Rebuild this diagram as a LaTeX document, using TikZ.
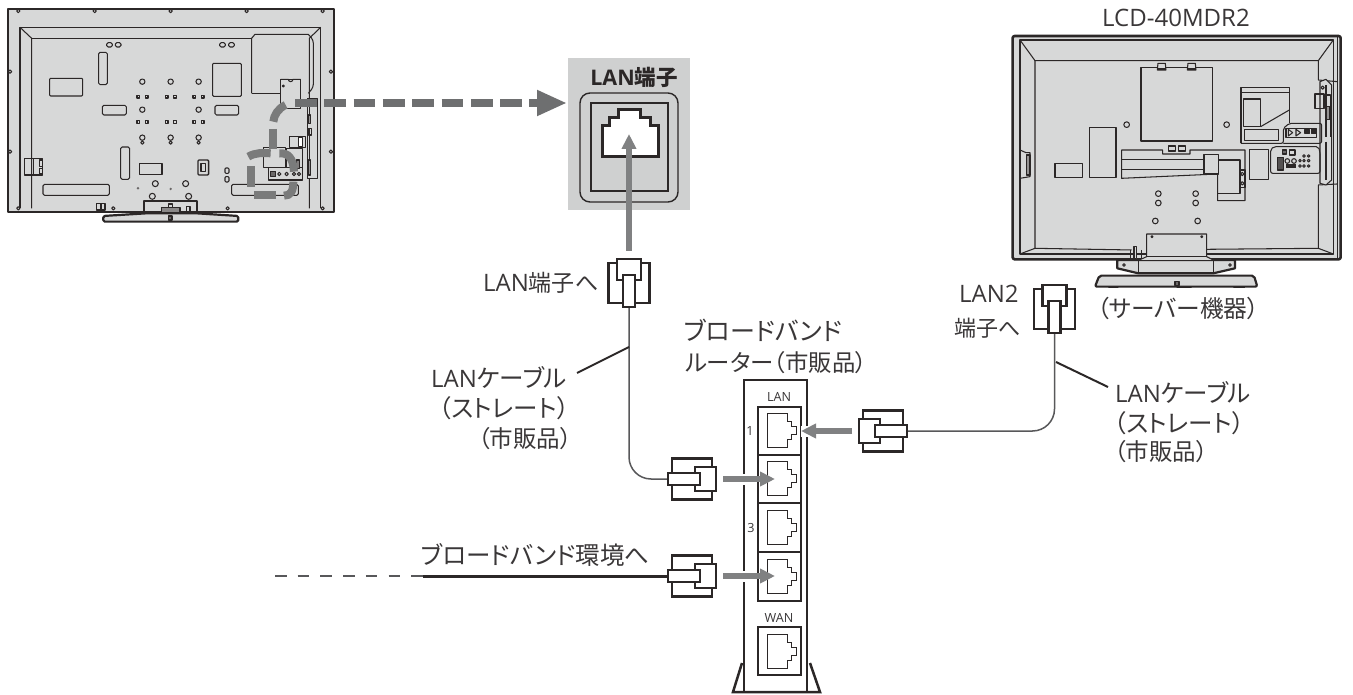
\documentclass[tikz,border=0pt]{standalone}
\usepackage{fontspec}
\setmainfont[RawFeature=+palt]{Noto Sans CJK JP}
\newfontfamily\latfam{Open Sans}
\usetikzlibrary{arrows.meta}
\definecolor{ink}{HTML}{2B2727}
\definecolor{txt}{HTML}{3A3738}
\definecolor{tvfill}{HTML}{D7D8D8}
\definecolor{panel}{HTML}{CFD0D0}
\definecolor{arrowgray}{HTML}{808182}
\definecolor{dashgray}{HTML}{6E6F70}
\definecolor{wiregray}{HTML}{58585A}
\newcommand{\ltn}[1]{{\latfam\fontsize{24}{28}\selectfont #1}}
\tikzset{
  lab/.style={font=\fontsize{23}{28}\selectfont,text=txt,inner sep=0pt,anchor=base west},
  labk/.style={lab,font=\fontsize{24.5}{28}\selectfont},
  smalllab/.style={font=\latfam\fontsize{12.6}{15}\selectfont,text=txt,inner sep=0pt},
  tv/.style={draw=ink,line width=1.05pt,line join=round},
  tvthick/.style={draw=ink,line width=2.2pt,line join=round},
  tvdash/.style={draw=dashgray!92!white,line width=8pt},
  wire/.style={draw=wiregray,line width=1.5pt,rounded corners=22pt},
  leader/.style={draw=ink,line width=2pt},
  gap/.style={draw=white,line width=11pt},
  grayarrow/.style={draw=arrowgray,line width=5.5pt,-{Triangle[length=15pt,width=14pt,fill=arrowgray]}},
  portbox/.style={draw=ink,line width=1.1pt},
  pics/plug/.style={code={
    \draw[ink,line width=2.2pt,fill=white] (-20.5,4) rectangle (20.5,44);
    \draw[ink,line width=2.2pt,fill=white] (-12,0) rectangle (12,21);
    \draw[ink,line width=2.2pt,fill=white] (-6,16) rectangle (6,48);
  }},
  pics/rjjack/.style={code={
    \draw[ink,line width=.9pt,fill=white] (0,-17) -- (20,-17) -- (20,-9) -- (24,-9) -- (24,-4) -- (29,-4)
      -- (29,4) -- (24,4) -- (24,9) -- (20,9) -- (20,17) -- (0,17) -- cycle;
  }}
}
\begin{document}
\begin{tikzpicture}[x=1pt,y=-1pt]
\useasboundingbox (0,0) rectangle (1353,695);
\fill[white] (0,0) rectangle (1353,695);

% ---------- left TV (zoom coordinates, 1/3 px)
\begin{scope}[x=.3333pt,y=-.3333pt]
\draw[tvthick,fill=tvfill] (23,27) rectangle (1002,635);
\draw[tv] (60,625) -- (60,82) -- (962,82) -- (962,625);
\draw[tv] (60,82) -- (95,115) -- (95,625);
\draw[tv] (962,82) -- (928,115) -- (928,625);
\draw[tv] (95,115) -- (755,115);
\draw[tv] (755,280) -- (755,115) -- (765,103) -- (925,103) [rounded corners=3pt] -- (940,120) -- (940,262) -- (925,280);
\draw[tv] (755,280) -- (842,280);
\foreach \a/\b in {55/33,284/33,512/33,740/33,968/33,30/215,30/455,993/215,993/455,55/625,340/625,683/625,968/625}
  \draw[tv,fill=tvfill] (\a,\b) circle [radius=5];
\foreach \a in {320,346,659,686}
  \draw[tv,rounded corners=1.5pt] (\a,128) rectangle ++(17,13);
\draw[tv,rounded corners=1.5pt] (296,157) rectangle (322,254);
\draw[tv,rounded corners=1pt] (149,235) rectangle (248,288);
\draw[tv,rounded corners=1pt] (638,190) rectangle (724,289);
\draw[tv,rounded corners=1.5pt] (307,316) rectangle (379,345);
\draw[tv,rounded corners=1.5pt] (645,316) rectangle (716,345);
\foreach \a/\b in {427/245,512/245,596/245,427/329,596/329}
  \draw[tv] (\a,\b) circle [radius=8];
\foreach \a in {427,512,596} {
  \draw[tv] (\a,428) circle [radius=5];
  \draw[tv,fill=tvfill] (\a,413) circle [radius=8];
}
\foreach \b in {290,366} \foreach \a in {415,440,500,525,583,608}
  \draw[tv,fill=tvfill] (\a-4,\b-4) rectangle ++(8,8);
\draw[tv,rounded corners=1.5pt] (362,441) rectangle (389,538);
\draw[tv] (418,490) rectangle (486,524);
\draw[tv,rounded corners=1pt,line width=1.3pt] (594,480) rectangle (626,525);
\draw[tv] (603,491) rectangle (616,515);
\draw[tv,rounded corners=1.5pt] (129,553) rectangle (328,586);
\foreach \a/\b in {466/551,557/551,457/589,566/589}
  \draw[tv] (\a,\b) circle [radius=9];
\fill[ink!70!white] (414,565) circle [radius=4] (512,567) circle [radius=4];
\draw[tv,rounded corners=1pt] (675,504) rectangle (687,520);
\draw[tv,rounded corners=1pt] (675,530) rectangle (687,546);
\draw[tv,rounded corners=1.5pt] (695,553) rectangle (895,586);
\draw[tv,line width=1.3pt] (73,476) rectangle (128,525);
\draw[tv] (100,476) -- (100,525) (118,480) rectangle (128,500) (118,505) rectangle (128,522);
\draw[tv,fill=tvfill] (842,238) rectangle (902,326);
\draw[tv] (842,238) -- (865,238) arc (180:0:7) -- (902,238);
\draw[tv,fill=ink!60!white] (850,258) circle [radius=3];
\draw[tv,fill=tvfill] (922,295) rectangle (952,535);
\draw[tv] (930,300) -- (930,370) (930,385) -- (930,525) (925,385) rectangle (935,405);
\draw[tv,fill=ink!50!white] (925,345) rectangle (931,370) (925,480) rectangle (931,525);
\draw[tv,fill=tvfill] (860,445) rectangle (907,503);
\draw[tv,fill=tvfill] (792,443) rectangle (858,503);
\draw[tv,fill=tvfill] (805,503) rectangle (907,540);
\draw[tv,fill=tvfill] (870,410) rectangle (917,443);
\draw[tv,line width=1.4pt,fill=white] (895,412) rectangle (907,440);
\draw[tv,fill=ink!70!white] (813,514) rectangle (828,530);
\draw[tv] (838,522) circle [radius=5] (860,522) circle [radius=5] (882,522) circle [radius=5] (897,522) circle [radius=5];
\draw[tv,fill=ink!60!white] (890,480) rectangle (900,505);
% stand
\draw[tvthick,fill=tvfill] (432,632) -- (432,603) -- (592,603) -- (592,632);
\draw[tv,fill=ink!55!white] (485,623) rectangle (540,637);
\draw[tv] (505,612) rectangle (518,623) (560,620) rectangle (570,635);
\draw[tvthick,fill=tvfill,rounded corners=1.5pt] (310,648) -- (440,640) -- (590,640) -- (715,648) -- (715,665) -- (310,665) -- cycle;
\draw[tv,fill=ink!70!white] (506,648) rectangle (516,660);
\draw[tv,line width=1.4pt,fill=tvfill] (290,610) rectangle (315,630);
\draw[tv] (303,610) -- (303,630);
% route of the hidden cable
\draw[tvdash] (857,315) .. controls (835,325) and (822,345) .. (820,365);
\draw[tvdash] (818,387) -- (818,448);
\draw[tvdash] (745,470) .. controls (765,458) and (790,458) .. (812,460);
\draw[tvdash] (838,460) .. controls (865,458) and (880,475) .. (882,515);
\draw[tvdash] (753,498) -- (753,562);
\draw[tvdash] (762,585) -- (828,585);
\draw[tvdash] (852,587) .. controls (872,587) and (880,575) .. (880,545);
\end{scope}

% ---------- right TV (zoom coordinates, 1/3 px)
\begin{scope}[shift={(1000,30)},x=.3333pt,y=-.3333pt]
% stand behind the set
\draw[tvthick,fill=tvfill] (352,690) -- (352,715) -- (415,730) -- (640,730) -- (705,715) -- (705,690) -- cycle;
\draw[tv] (360,692) -- (415,692) -- (415,730) (640,692) -- (640,730) -- (640,692) -- (698,692);
\draw[tv] (372,705) circle [radius=4] (690,705) circle [radius=4];
\draw[tvthick,fill=tvfill,rounded corners=2pt] (298,737) -- (762,737) -- (772,770) -- (285,770) -- cycle;
\fill[ink] (325,770) rectangle (355,774) (530,770) rectangle (575,774) (700,770) rectangle (735,774);
\draw[tv,fill=ink!70!white] (525,755) rectangle (537,768);
% set
\draw[tvthick,fill=tvfill,rounded corners=2pt,line width=2.6pt] (38,18) rectangle (1022,688);
\draw[tv] (1012,22) -- (1012,684);
\draw[tv] (60,30) -- (1000,30) -- (1000,672) -- (60,672) -- cycle;
\draw[tv] (60,30) -- (105,92) -- (955,92) -- (1000,30);
\draw[tv] (105,92) -- (105,655) -- (395,660);
\draw[tv] (60,672) -- (105,655);
\draw[tv] (620,658) -- (955,655) -- (1000,672);
\draw[tv] (955,92) -- (955,150) -- (1012,155);
\draw[tv] (955,655) -- (955,465) -- (1012,462);
\draw[tv,fill=tvfill] (978,148) -- (995,165) -- (995,450) -- (978,465) -- (960,460) -- (960,155) -- cycle;
\draw[tv] (978,165) -- (978,320) (978,335) -- (978,450) (975,195) -- (992,195) -- (992,320);
\draw[tv] (968,173) circle [radius=5];
\draw[tv] (945,192) rectangle (972,236);
\draw[tv,fill=ink!50!white] (978,230) rectangle (990,268);
\draw[tv] (60,360) -- (78,368) -- (90,368) -- (90,440) -- (60,445);
\draw[tv,fill=ink!50!white] (80,375) rectangle (90,435);
% back plate
\draw[tv] (423,112) rectangle (638,333);
\foreach \a in {472,562} {
  \draw[tv,fill=tvfill] (\a,120) -- (\a+2,100) -- (\a+24,100) -- (\a+26,120) -- cycle;
  \draw[tv,line width=2pt] (\a,118) -- (\a+26,118);
}
\foreach \a/\b in {380/284,680/284,475/491,475/519,587/491,587/519,466/573,593/573}
  \draw[tv] (\a,\b) circle [radius=8.5];
\draw[tv] (268,293) rectangle (348,442);
\draw[tv] (165,400) rectangle (248,442);
\draw[tv] (365,360) -- (488,360) -- (488,372) -- (570,372) -- (570,360) -- (735,360) -- (735,512) -- (653,512) -- (653,432) -- (365,445) -- cycle;
\draw[tv] (365,388) -- (612,388) (365,418) -- (612,418);
\draw[tv] (612,373) -- (655,373) -- (655,432) -- (612,432) -- cycle (655,390) -- (720,390) -- (720,490) -- (655,490);
\draw[tv] (718,420) rectangle (735,472);
\draw[tv] (727,432) circle [radius=5] (727,460) circle [radius=5];
\draw[tv] (505,348) rectangle (527,363) (535,348) rectangle (557,363);
\draw[tv] (748,358) rectangle (805,448);
\draw[tv] (723,340) -- (723,173) -- (868,173) -- (868,280);
\draw[tv] (723,187) -- (868,187);
\draw[tv] (730,207) -- (782,207) -- (782,290) -- (730,290) -- cycle;
\draw[tv] (782,290) -- (868,240);
\draw[tv] (733,298) rectangle (835,332);
\draw[tv,rounded corners=2pt] (723,340) -- (850,340) -- (850,295) -- (868,280) -- (965,280) -- (965,340) -- (850,340);
\draw[tv,line width=1.4pt] (858,295) rectangle (950,322);
\draw[tv] (865,298) -- (878,308) -- (865,318) -- cycle (888,298) -- (902,308) -- (888,318) -- cycle;
\draw[tv,fill=ink] (915,298) rectangle (928,310) (935,298) rectangle (948,310);
\draw[tv,rounded corners=2pt] (812,430) -- (812,358) -- (822,350) -- (955,350) -- (960,365) -- (960,430) -- cycle;
\draw[tv,fill=ink!70!white] (848,360) rectangle (860,372);
\draw[tv] (868,360) rectangle (885,375);
\draw[tv,fill=ink!80!white] (832,382) rectangle (850,420);
\draw[tv] (862,393) circle [radius=7] (882,393) circle [radius=7];
\fill[ink] (858,402) rectangle (888,414);
\foreach \a in {900,912,926} \foreach \b in {392,408}
  \draw[tv] (\a,\b) circle [radius=4];
\foreach \a in {912,926} \draw[tv] (\a,378) circle [radius=4];
% neck
\draw[tv,fill=tvfill] (418,690) -- (440,680) -- (440,612) -- (620,612) -- (620,680) -- (640,690);
\draw[tv] (440,680) -- (620,680);
\draw[tv] (456,620) circle [radius=3] (605,620) circle [radius=3];
\draw[tv,line width=1.3pt,fill=tvfill] (402,650) rectangle (410,686);
\draw[tv] (392,660) -- (392,688) (425,660) -- (425,688);
\end{scope}

% ---------- LAN panel
\fill[panel] (568,58) rectangle (690,210);
\draw[ink,line width=1.4pt,rounded corners=10pt] (580,93) rectangle (678,202);
\draw[ink,line width=1.4pt] (591,103) rectangle (668,191);
\node[inner sep=0pt,text=ink,anchor=base] (lanterm) at (634,86) {{\bfseries\latfam\fontsize{21.5}{24}\selectfont LAN}{\bfseries\fontsize{21.5}{24}\selectfont 端子}};
\draw[ink,line width=3pt,fill=white,line join=miter] (618,110) -- (640,110) -- (640,118) -- (650,118) -- (650,126) -- (658,126)
  -- (658,157) -- (602,157) -- (602,126) -- (609,126) -- (609,118) -- (618,118) -- cycle;

% ---------- router
\draw[ink,line width=2.5pt,line join=miter] (744,692) -- (744,380) -- (807,380) -- (807,692);
\draw[ink,line width=2.5pt,line join=miter] (742,663) -- (733,692) -- (820,692) -- (810,663);
\foreach \y/\h in {407/48,455/48,503/49,552/49,627/48}
  \draw[portbox] (758,\y) rectangle ++(43,\h);
\foreach \y in {430,478,527,576,651}
  \pic at (767,\y) {rjjack};
\node[smalllab] (lanlab) at (779,397) {LAN};
\node[smalllab] (wanlab) at (779,618) {WAN};
\node[smalllab] (one) at (750,431) {1};
\node[smalllab] (three) at (751,528) {3};

% ---------- named ends
\coordinate (tipA) at (629,259);  \coordinate (tailA) at (629,307);
\coordinate (tipC) at (1054.5,285); \coordinate (tailC) at (1054.5,333);
\coordinate (tipB) at (716,479);  \coordinate (tailB) at (668,479);
\coordinate (tipD) at (716,576);  \coordinate (tailD) at (668,576);
\coordinate (tipE) at (859,431);  \coordinate (tailE) at (907,431);
\coordinate (tvOut) at (295,103); \coordinate (panelIn) at (567,103);
\coordinate (netDash) at (275,576); \coordinate (netSolid) at (423,576);

% ---------- wires
\draw[wire] (tailA) |- (tailB);
\draw[wire] (tailC) |- (tailE);
\draw[ink,line width=3pt] (netSolid) -- (tailD);
\draw[wiregray,line width=2pt,dash pattern=on 11.5pt off 11.2pt] (netDash) -- (netSolid);
\draw[leader] (577,373) -- (629,347);
\draw[leader] (1056,362) -- (1108,387);

% ---------- plugs
\pic at (tipA) {plug};
\pic at (tipC) {plug};
\pic[rotate=-90] at (tipB) {plug};
\pic[rotate=-90] at (tipD) {plug};
\pic[rotate=90] at (tipE) {plug};

% ---------- arrows
\coordinate (a1s) at (629,251); \coordinate (a1e) at (629,134);
\coordinate (a2s) at (723,479); \coordinate (a2e) at (775,479);
\coordinate (a3s) at (723,576); \coordinate (a3e) at (775,576);
\coordinate (a4s) at (852,431); \coordinate (a4e) at (801,431);
\draw[gap] (738,479) -- (750,479);
\draw[gap] (738,576) -- (750,576);
\draw[gap] (801,431) -- (814,431);
\draw[grayarrow] (a1s) -- (a1e);
\draw[grayarrow] (a2s) -- (a2e);
\draw[grayarrow] (a3s) -- (a3e);
\draw[grayarrow] (a4s) -- (a4e);
\draw[dashgray,line width=7.5pt,dash pattern=on 21.8pt off 7.5pt,-{Triangle[length=30pt,width=24pt,fill=dashgray]}] (tvOut) -- (panelIn);

% ---------- labels
\node[lab] (model) at (1102,27) {\ltn{LCD-40MDR2}};
\node[lab,font=\fontsize{23.7}{28}\selectfont] (server) at (1097,318) {（サーバー機器）};
\node[lab] (toLan) at (483,292) {\ltn{LAN}端子へ};
\node[lab] (toLan2a) at (959,303) {\ltn{LAN2}};
\node[lab,font=\fontsize{22}{28}\selectfont] (toLan2b) at (954,336) {端子へ};
\node[labk,font=\fontsize{25}{28}\selectfont] (rtA) at (684,340) {ブロードバンド};
\node[lab,font=\fontsize{23.4}{28}\selectfont] (rtB) at (685,371) {ルーター（市販品）};
\node[labk] (lA1) at (431,387) {\ltn{LAN}ケーブル};
\node[labk] (lA2) at (439,417) {（ストレート）};
\node[lab,font=\fontsize{23.5}{28}\selectfont] (lA3) at (478,447) {（市販品）};
\node[labk] (lB1) at (1115,402) {\ltn{LAN}ケーブル};
\node[labk] (lB2) at (1114,432) {（ストレート）};
\node[lab,font=\fontsize{23.5}{28}\selectfont] (lB3) at (1114,460) {（市販品）};
\node[labk] (net) at (421,564) {ブロードバンド環境へ};
\end{tikzpicture}
\end{document}
